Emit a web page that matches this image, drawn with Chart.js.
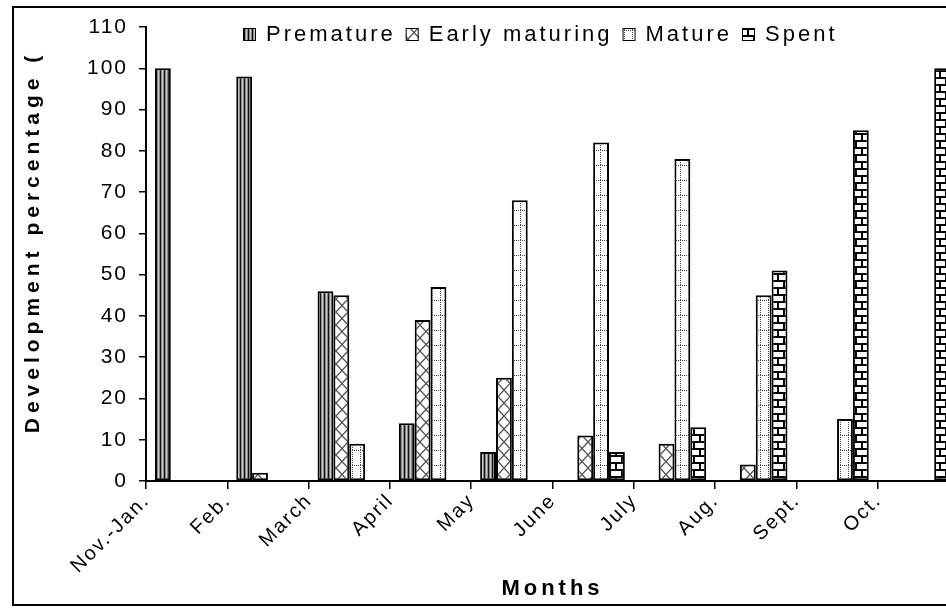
<!DOCTYPE html>
<html>
<head>
<meta charset="utf-8">
<script src="https://cdn.jsdelivr.net/npm/chart.js@4.4.0/dist/chart.umd.min.js"></script>
<style>
  html, body { margin: 0; padding: 0; background: #fff; overflow: hidden; }
  #wrap { width: 962px; height: 614px; }
</style>
</head>
<body>
<div id="wrap"><canvas id="chart_one" width="962" height="614"></canvas></div>
<script>
var months = ["Nov.-Jan.", "Feb.", "March", "April", "May", "June", "July", "Aug.", "Sept.", "Oct."];
var premature = [100, 98, 46, 14, 7, 0, 0, 0, 0, 0];
var earlyMaturing = [0, 2, 45, 39, 25, 11, 9, 4, 0, 0];
var mature = [0, 0, 9, 47, 68, 82, 78, 45, 15, 0];
var spent = [0, 0, 0, 0, 0, 7, 13, 51, 85, 100];
var yMax = 110;
var yStep = 10;

var canvas = document.getElementById("chart_one");
var ctx = canvas.getContext("2d");
var fontFamily = "'Liberation Sans', Arial, sans-serif";

function makePattern(w, h, paint) {
  var c = document.createElement("canvas");
  c.width = w;
  c.height = h;
  var g = c.getContext("2d");
  g.fillStyle = "#fff";
  g.fillRect(0, 0, w, h);
  paint(g);
  return ctx.createPattern(c, "repeat");
}

// vertical stripes
var stripePattern = makePattern(4, 4, function (g) {
  g.fillStyle = "#111"; g.fillRect(0, 0, 1, 4);
  g.fillStyle = "#888"; g.fillRect(1, 0, 1, 4);
  g.fillStyle = "#ccc"; g.fillRect(2, 0, 1, 4);
  g.fillStyle = "#888"; g.fillRect(3, 0, 1, 4);
});

// diagonal cross hatch
var crossPattern = makePattern(12, 13, function (g) {
  g.strokeStyle = "#555";
  g.lineWidth = 1.3;
  g.beginPath();
  g.moveTo(0, 0); g.lineTo(12, 13);
  g.moveTo(12, 0); g.lineTo(0, 13);
  g.stroke();
});

// dotted grid
var dotPattern = makePattern(8, 15, function (g) {
  g.fillStyle = "#444";
  for (var x = 0; x < 8; x += 2) g.fillRect(x, 0, 1, 1);
  for (var y = 0; y < 15; y += 2) g.fillRect(0, y, 1, 1);
});

// bricks
var brickPattern = makePattern(12, 14, function (g) {
  g.fillStyle = "#000";
  g.fillRect(0, 0, 12, 2);
  g.fillRect(0, 7, 12, 2);
  g.fillRect(3, 2, 2, 5);
  g.fillRect(9, 9, 2, 5);
});

var dataFirst = {
  label: "Premature",
  data: premature,
  backgroundColor: stripePattern
};
var dataSecond = {
  label: "Early maturing",
  data: earlyMaturing,
  backgroundColor: crossPattern
};
var dataThird = {
  label: "Mature",
  data: mature,
  backgroundColor: dotPattern
};
var dataFourth = {
  label: "Spent",
  data: spent,
  backgroundColor: brickPattern
};

var titleSpacing = { x: "4px", y: "5px" };
var titleShiftY = { x: 0, y: -12 };

var pagePlugin = {
  id: "page",
  beforeDraw: function (chart) {
    var c = chart.ctx;
    c.save();
    c.fillStyle = "#fff";
    c.fillRect(0, 0, chart.width, chart.height);
    c.strokeStyle = "#000";
    c.lineWidth = 2;
    c.strokeRect(13, 7, 1000, 598);
    c.restore();
    c.letterSpacing = "2px";
    ["x", "y"].forEach(function (id) {
      var s = chart.scales[id];
      if (s && !s._spaced) {
        var orig = s.drawTitle;
        s.drawTitle = function () {
          var k = this.ctx;
          k.save();
          k.letterSpacing = titleSpacing[id];
          k.translate(0, titleShiftY[id]);
          orig.apply(this, arguments);
          k.restore();
        };
        s._spaced = true;
      }
    });
  },
  afterDraw: function (chart) {
    // legend sits inside the plot, above the bars
    var c = chart.ctx;
    c.save();
    c.font = "22px " + fontFamily;
    c.letterSpacing = "3px";
    c.textBaseline = "middle";
    var x = 243, y = 34;
    chart.data.datasets.forEach(function (ds) {
      c.fillStyle = ds.backgroundColor;
      c.fillRect(x, y - 6, 13, 13);
      c.strokeStyle = "#000";
      c.lineWidth = 1;
      c.strokeRect(x + 0.5, y - 5.5, 12, 12);
      c.fillStyle = "#000";
      c.fillText(ds.label, x + 23, y + 1);
      x += 23 + c.measureText(ds.label).width + 10;
    });
    c.restore();
  }
};

var chartData = {
  labels: months,
  datasets: [dataFirst, dataSecond, dataThird, dataFourth]
};

var chartOptions = {
  responsive: false,
  animation: false,
  layout: { padding: { left: 0, top: 27, right: 3, bottom: 0 } },
  datasets: {
    bar: {
      categoryPercentage: 0.78,
      barPercentage: 1.0,
      borderColor: "#000",
      borderWidth: 2,
      borderSkipped: false
    }
  },
  plugins: {
    legend: { display: false },
    tooltip: { enabled: false }
  },
  scales: {
    x: {
      afterFit: function (s) { s.height = 133; },
      grid: { offset: true, drawOnChartArea: false, color: "#000", lineWidth: 1.5, tickLength: 8 },
      border: { color: "#000", width: 2 },
      ticks: {
        autoSkip: false,
        minRotation: 45,
        maxRotation: 45,
        labelOffset: -40,
        padding: 0,
        color: "#000",
        font: { family: fontFamily, size: 20 }
      },
      title: {
        display: true,
        text: "Months",
        color: "#000",
        padding: { top: 0, bottom: 12 },
        font: { family: fontFamily, size: 22, weight: "bold" }
      }
    },
    y: {
      min: 0,
      max: yMax,
      afterFit: function (s) { s.width = 146; },
      grid: { drawOnChartArea: false, color: "#000", lineWidth: 1.5, tickLength: 7 },
      border: { color: "#000", width: 2 },
      ticks: {
        stepSize: yStep,
        padding: 11,
        color: "#000",
        font: { family: fontFamily, size: 21 }
      },
      title: {
        display: true,
        text: "Development percentage (",
        color: "#000",
        padding: { top: 21, bottom: 0 },
        font: { family: fontFamily, size: 21, weight: "bold" }
      }
    }
  }
};

var barChart = new Chart(canvas, {
  type: "bar",
  data: chartData,
  options: chartOptions,
  plugins: [pagePlugin]
});
</script>
</body>
</html>
